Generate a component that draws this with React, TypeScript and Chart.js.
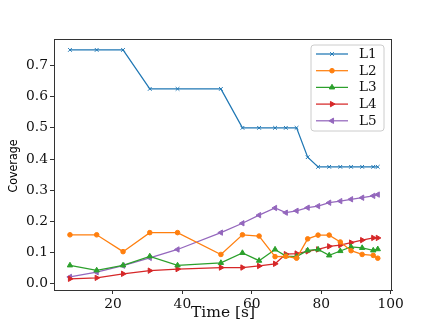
import React, { useEffect, useRef } from 'react';
import { Chart, registerables } from 'chart.js';
import { drawPoint } from 'chart.js/helpers';

Chart.register(...registerables);

const times = [7.6, 15.3, 22.9, 30.6, 38.6, 51.1, 57.3, 62.1, 66.7, 69.8, 72.9, 76.1, 79.1, 82.3, 85.5, 88.6, 91.8, 95.0, 96.3];
const L1 = [0.75, 0.75, 0.75, 0.625, 0.625, 0.625, 0.5, 0.5, 0.5, 0.5, 0.5, 0.406, 0.375, 0.375, 0.375, 0.375, 0.375, 0.375, 0.375];
const L2 = [0.157, 0.157, 0.103, 0.164, 0.164, 0.094, 0.157, 0.153, 0.087, 0.088, 0.082, 0.144, 0.156, 0.156, 0.134, 0.106, 0.094, 0.091, 0.082];
const L3 = [0.059, 0.043, 0.059, 0.088, 0.059, 0.067, 0.099, 0.074, 0.110, 0.089, 0.087, 0.107, 0.110, 0.091, 0.105, 0.118, 0.115, 0.107, 0.111];
const L4 = [0.016, 0.019, 0.032, 0.042, 0.047, 0.052, 0.052, 0.057, 0.064, 0.095, 0.097, 0.104, 0.110, 0.120, 0.124, 0.132, 0.140, 0.147, 0.147];
const L5 = [0.022, 0.037, 0.058, 0.083, 0.110, 0.164, 0.194, 0.220, 0.243, 0.228, 0.234, 0.244, 0.249, 0.260, 0.265, 0.271, 0.276, 0.282, 0.286];
const seriesNames = ['L1', 'L2', 'L3', 'L4', 'L5'];
const xTicks = [20, 40, 60, 80, 100];
const yTicks = [0, 0.1, 0.2, 0.3, 0.4, 0.5, 0.6, 0.7];
const xTitle = 'Time [s]';
const yTitle = 'Coverage';

const colors = ['#1f77b4', '#ff7f0e', '#2ca02c', '#d62728', '#9467bd'];
const styles = [
  { pointStyle: 'crossRot', radius: 2.6, rotation: 0 },
  { pointStyle: 'circle', radius: 2.3, rotation: 0 },
  { pointStyle: 'triangle', radius: 3.1, rotation: 0 },
  { pointStyle: 'triangle', radius: 3.1, rotation: 90 },
  { pointStyle: 'triangle', radius: 3.1, rotation: -90 },
];

const SERIF = '"DejaVu Serif", serif';

export default function App() {
  const ref = useRef<HTMLCanvasElement | null>(null);
  useEffect(() => {
    document.body.style.margin = '0';
    const canvas = ref.current!;
    const all = [L1, L2, L3, L4, L5];
    const datasets = all.map((arr, i) => ({
      label: seriesNames[i],
      data: arr.map((v, j) => ({ x: times[j], y: v })),
      borderColor: colors[i],
      backgroundColor: colors[i],
      borderWidth: 1.25,
      pointStyle: styles[i].pointStyle as any,
      pointRadius: styles[i].radius,
      pointRotation: styles[i].rotation,
      pointBorderWidth: 1,
      pointBackgroundColor: colors[i],
      pointBorderColor: colors[i],
      tension: 0,
      fill: false,
    }));

    const framePlugin = {
      id: 'frame',
      afterDraw(chart: any) {
        const { ctx, chartArea } = chart;
        const { left, right, top, bottom } = chartArea;
        ctx.save();
        ctx.strokeStyle = '#333';
        ctx.lineWidth = 1;
        ctx.beginPath();
        ctx.moveTo(left, top + 0.5);
        ctx.lineTo(right, top + 0.5);
        ctx.moveTo(right - 0.5, top);
        ctx.lineTo(right - 0.5, bottom);
        ctx.stroke();

        // legend
        const bx = 311, by = 45, bw = 73, bh = 86, r = 3;
        ctx.fillStyle = 'rgba(255,255,255,0.85)';
        ctx.strokeStyle = '#cccccc';
        ctx.beginPath();
        ctx.moveTo(bx + r, by);
        ctx.lineTo(bx + bw - r, by);
        ctx.arcTo(bx + bw, by, bx + bw, by + r, r);
        ctx.lineTo(bx + bw, by + bh - r);
        ctx.arcTo(bx + bw, by + bh, bx + bw - r, by + bh, r);
        ctx.lineTo(bx + r, by + bh);
        ctx.arcTo(bx, by + bh, bx, by + bh - r, r);
        ctx.lineTo(bx, by + r);
        ctx.arcTo(bx, by, bx + r, by, r);
        ctx.closePath();
        ctx.fill();
        ctx.stroke();
        for (let i = 0; i < seriesNames.length; i++) {
          const y = 54 + i * 16.7;
          ctx.strokeStyle = colors[i];
          ctx.lineWidth = 1.25;
          ctx.beginPath();
          ctx.moveTo(316, y);
          ctx.lineTo(348, y);
          ctx.stroke();
          ctx.fillStyle = colors[i];
          ctx.strokeStyle = colors[i];
          ctx.lineWidth = 1;
          drawPoint(ctx, { pointStyle: styles[i].pointStyle as any, radius: styles[i].radius, rotation: styles[i].rotation, borderWidth: 1 } as any, 332, y);
          ctx.fillStyle = '#111';
          ctx.font = '13.5px ' + SERIF;
          ctx.textAlign = 'left';
          ctx.textBaseline = 'middle';
          ctx.fillText(seriesNames[i], 359, y + 0.5);
        }

        // x title
        ctx.fillStyle = '#111';
        ctx.font = '15.5px ' + SERIF;
        ctx.textAlign = 'center';
        ctx.textBaseline = 'middle';
        ctx.fillText(xTitle, (left + right) / 2, 312.5);

        // y title
        ctx.fillStyle = '#000';
        ctx.font = '12.5px "DejaVu Sans", sans-serif';
        ctx.textBaseline = 'alphabetic';
        const w = ctx.measureText(yTitle).width;
        const sx = 53 / w;
        ctx.translate(16.5, 166);
        ctx.rotate(-Math.PI / 2);
        ctx.scale(sx, 1);
        ctx.fillText(yTitle, 0, 0);
        ctx.restore();
      },
    };

    const chart = new Chart(canvas, {
      type: 'line',
      data: { datasets },
      plugins: [framePlugin],
      options: {
        animation: false,
        responsive: false,
        devicePixelRatio: 1,
        layout: { padding: { top: 39, right: 44, left: 0, bottom: 0 } },
        plugins: { legend: { display: false }, tooltip: { enabled: false } },
        scales: {
          x: {
            type: 'linear',
            min: 3.0,
            max: 100.4,
            afterFit: (s: any) => { s.height = 37; },
            afterBuildTicks: (s: any) => { s.ticks = xTicks.map((v) => ({ value: v })); },
            ticks: {
              callback: (v: any) => String(v),
              font: { family: SERIF, size: 13.8 },
              color: '#111',
              padding: 2,
              maxRotation: 0,
              autoSkip: false,
            },
            grid: { display: true, drawOnChartArea: false, drawTicks: true, tickLength: 4, color: '#333' },
            border: { display: true, color: '#333', width: 1 },
          },
          y: {
            type: 'linear',
            min: -0.02,
            max: 0.785,
            afterFit: (s: any) => { s.width = 54; },
            afterBuildTicks: (s: any) => { s.ticks = yTicks.map((v) => ({ value: v })); },
            ticks: {
              callback: (v: any) => Number(v).toFixed(1),
              font: { family: SERIF, size: 13.8 },
              color: '#111',
              padding: 2,
              autoSkip: false,
            },
            grid: { display: true, drawOnChartArea: false, drawTicks: true, tickLength: 4, color: '#333' },
            border: { display: true, color: '#333', width: 1 },
          },
        },
      },
    } as any);
    return () => chart.destroy();
  }, []);
  return (
    <div style={{ width: 436, height: 327 }}>
      <canvas ref={ref} width={436} height={327} style={{ display: 'block', width: 436, height: 327 }} />
    </div>
  );
}
